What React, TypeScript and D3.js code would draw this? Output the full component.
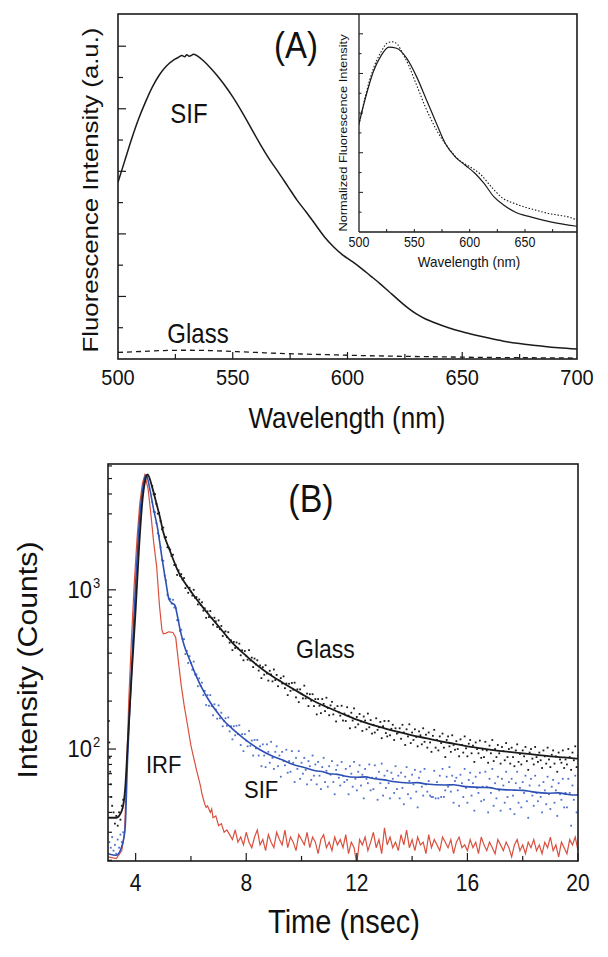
import React from "react";
import * as d3 from "d3";

const FONT = "'Liberation Sans', Arial, Helvetica, sans-serif";
const SY = 1.12;

// ---------------- Panel A data ----------------
const sifSpectrum: [number, number][] = [
  [500, 5.65], [503, 6.35], [506, 7.05], [509, 7.68], [512, 8.22], [515, 8.7], [518, 9.08],
  [521, 9.36], [524, 9.55], [526, 9.63], [528, 9.7], [529, 9.66], [530, 9.73], [531, 9.68],
  [533, 9.74], [535, 9.67], [537, 9.55], [540, 9.33], [543, 9.08], [546, 8.8], [550, 8.38],
  [554, 7.9], [558, 7.38], [562, 6.86], [566, 6.38], [570, 5.96], [574, 5.52], [578, 5.08],
  [582, 4.7], [586, 4.3], [590, 3.9], [594, 3.58], [598, 3.32], [602, 3.12], [606, 2.9],
  [610, 2.66], [614, 2.42], [618, 2.16], [622, 1.9], [626, 1.65], [630, 1.44], [634, 1.28],
  [638, 1.16], [644, 1.0], [650, 0.87], [656, 0.76], [662, 0.66], [668, 0.57], [674, 0.5],
  [680, 0.45], [686, 0.4], [692, 0.36], [700, 0.32],
];
const glassSpectrum: [number, number][] = [
  [500, 0.21], [510, 0.24], [520, 0.27], [530, 0.28], [540, 0.27], [550, 0.24], [560, 0.21],
  [570, 0.18], [580, 0.16], [590, 0.14], [600, 0.12], [620, 0.09], [640, 0.07], [660, 0.05],
  [680, 0.04], [700, 0.03],
];
const insetSif: [number, number][] = [
  [500, 5.48], [506, 6.8], [513, 8.1], [520, 8.9], [527, 9.33], [534, 9.27], [543, 8.77],
  [552, 7.84], [561, 6.66], [570, 5.48], [578, 4.47], [587, 3.79], [596, 3.37], [605, 2.95],
  [613, 2.45], [622, 1.77], [631, 1.35], [641, 1.01], [655, 0.76], [673, 0.51], [697, 0.29],
];
const insetGlass: [number, number][] = [
  [500, 5.4], [506, 6.9], [513, 8.25], [520, 9.1], [526, 9.55], [530, 9.6], [535, 9.45],
  [540, 8.95], [545, 8.4], [550, 7.7], [555, 7.0], [560, 6.3], [565, 5.7], [570, 5.15],
  [580, 4.3], [590, 3.65], [600, 3.3], [610, 2.9], [620, 2.25], [630, 1.7], [640, 1.45],
  [650, 1.25], [660, 1.1], [670, 0.95], [680, 0.85], [690, 0.75], [697, 0.6],
];
const aXTickLabels = [500, 550, 600, 650, 700];
const aXTicks = [525, 550, 575, 600, 625, 650, 675];
const aYTicks = [1, 2, 3, 4, 5, 6, 7, 8, 9, 10];
const insetXTickLabels = [500, 550, 600, 650];
const insetXTicks = [525, 550, 575, 600, 625, 650, 675];
const insetYTicks = [1, 2, 3, 4, 5, 6, 7, 8, 9, 10];

// ---------------- Panel B data ----------------
const glassFit: [number, number][] = [
  [3.0, 37], [3.3, 37], [3.5, 41], [3.62, 56], [3.72, 114], [3.86, 300], [4.0, 750],
  [4.12, 1800], [4.25, 3700], [4.35, 4900], [4.43, 5300], [4.6, 4400], [4.75, 3500],
  [4.87, 2900], [5.0, 2300], [5.25, 1740], [5.5, 1350], [6.0, 975], [6.5, 750], [7.0, 590],
  [7.5, 465], [8.0, 385], [8.5, 325], [9.0, 282], [9.5, 250], [10.0, 222], [10.5, 198],
  [11.0, 181], [11.5, 166], [12.0, 153], [12.5, 143], [13.0, 135], [13.5, 128], [14.0, 122],
  [14.5, 117], [15.0, 112], [15.5, 108], [16.0, 104], [16.5, 101], [17.0, 98], [17.5, 96],
  [18.0, 94], [18.5, 92], [19.0, 90], [19.5, 88.5], [20, 87],
];
const sifFit: [number, number][] = [
  [3.0, 22], [3.3, 21.5], [3.5, 24.5], [3.62, 32], [3.7, 80], [3.8, 200], [3.9, 480],
  [4.0, 1100], [4.1, 2200], [4.2, 3600], [4.3, 4800], [4.38, 5300], [4.5, 4400], [4.65, 3200],
  [4.8, 2400], [4.95, 1600], [5.1, 1100], [5.2, 880], [5.3, 830], [5.42, 800], [5.5, 700],
  [5.6, 570], [5.75, 450], [5.95, 365], [6.2, 285], [6.45, 232], [6.7, 196], [6.95, 170],
  [7.2, 150], [7.5, 134], [7.8, 121], [8.1, 110], [8.5, 99], [8.9, 91], [9.3, 85.5],
  [9.7, 80], [10.1, 76.5], [10.5, 73], [10.8, 71.8], [11.0, 70], [11.3, 69.3], [11.5, 68],
  [12.0, 66.5], [12.3, 66.8], [12.65, 65], [13.0, 64], [13.3, 62.5], [13.9, 61.2],
  [14.2, 61.5], [14.5, 60.3], [15.2, 59.4], [15.5, 59.6], [15.8, 58.5], [16.45, 57.4],
  [16.8, 57.2], [17.1, 56], [17.7, 55.2], [18.0, 55], [18.3, 54], [18.96, 52.8], [19.3, 53],
  [19.6, 52], [19.9, 51.4], [20, 51.5],
];
const irfHead: [number, number][] = [
  [3.0, 21], [3.3, 20.5], [3.5, 23], [3.6, 30], [3.67, 70], [3.75, 200], [3.85, 500],
  [3.95, 1100], [4.05, 2100], [4.15, 3500], [4.25, 4700], [4.33, 5250], [4.45, 4300],
  [4.55, 3000], [4.65, 2000], [4.76, 1400], [4.86, 800], [4.95, 560], [5.0, 530], [5.1, 535],
  [5.2, 545], [5.35, 540], [5.45, 500], [5.55, 350], [5.65, 250], [5.75, 190], [5.88, 140],
  [6.0, 105], [6.1, 88], [6.2, 74], [6.3, 63], [6.35, 58], [6.4, 52], [6.5, 45], [6.55, 43],
  [6.6, 44], [6.7, 40], [6.75, 42], [6.8, 37], [6.9, 38], [7.0, 33], [7.1, 34], [7.2, 30],
  [7.3, 31],
];
// IRF tail, one value per 0.1 ns channel from 7.4 ns
const irfTailStart = 7.4;
const irfChannel = 0.1;
const irfTail = [
  29, 27, 31, 26, 28, 25, 30, 26, 24, 28, 31, 25, 27, 23, 29, 26, 24, 30, 27, 25,
  31, 24, 28, 26, 23, 29, 27, 25, 30, 24, 28, 26, 22, 27, 29, 24, 26, 23, 28, 25,
  27, 24, 29, 22, 26, 24, 19, 27, 25, 28, 23, 26, 30, 24, 27, 22, 32, 25, 28, 24,
  26, 23, 29, 25, 31, 24, 27, 23, 28, 25, 26, 22, 29, 24, 27, 25, 23, 28, 26, 24,
  27, 22, 26, 28, 24, 25, 23, 27, 24, 26, 22, 28, 25, 23, 26, 24, 22, 27, 25, 23,
  26, 24, 21, 25, 27, 23, 25, 22, 26, 24, 27, 23, 25, 22, 26, 24, 28, 23, 25, 21,
  26, 24, 22, 27, 25, 28, 23,
];
// measured decays (dots), one value per 0.05 ns channel from 4.6 ns
const dotsStart = 4.6;
const dotsChannel = 0.05;
const glassDots = [
  4490, 3980, 3990, 3465, 3010, 3040, 2700, 2400, 2460, 2140, 2140, 1850, 1840, 1790, 1630, 1660, 1430, 1435, 1240, 1325,
  1225, 1255, 1160, 1185, 1025, 1060, 958, 1030, 975, 920, 1000, 890, 900, 810, 870, 805, 835, 740, 765, 667,
  732, 674, 736, 665, 604, 668, 634, 584, 643, 566, 593, 513, 540, 548, 505, 542, 466, 482, 418, 471,
  431, 467, 429, 459, 388, 417, 361, 413, 385, 364, 418, 360, 375, 327, 370, 340, 361, 311, 335, 279,
  327, 293, 336, 298, 269, 310, 294, 266, 316, 271, 292, 248, 269, 279, 258, 286, 241, 258, 218, 257,
  232, 260, 236, 261, 211, 237, 197, 237, 222, 208, 250, 208, 223, 186, 221, 201, 221, 186, 206, 165,
  206, 187, 168, 206, 192, 173, 210, 181, 163, 188, 198, 165, 180, 149, 186, 170, 162, 187, 151, 167,
  150, 183, 162, 135, 169, 151, 180, 137, 159, 143, 166, 149, 130, 160, 151, 133, 167, 137, 152, 125,
  142, 127, 156, 132, 137, 148, 117, 139, 150, 126, 120, 150, 122, 134, 142, 114, 135, 125, 127, 135,
  116, 142, 127, 106, 133, 120, 143, 109, 127, 114, 133, 119, 104, 129, 122, 107, 135, 111, 123, 102,
  127, 110, 96, 121, 132, 102, 114, 98, 120, 109, 125, 102, 89, 114, 120, 104, 96, 122, 106, 99,
  112, 100, 90, 115, 106, 95, 120, 101, 90, 108, 114, 94, 105, 83, 110, 100, 94, 113, 88, 99,
  89, 111, 98, 82, 105, 94, 114, 84, 100, 89, 106, 94, 81, 103, 97, 85, 109, 89, 100, 81,
  102, 89, 78, 98, 107, 83, 93, 80, 98, 90, 103, 84, 74, 95, 100, 87, 80, 103, 89, 83,
  95, 85, 76, 98, 90, 81, 102, 86, 77, 92, 98, 81, 90, 72, 95, 86, 82, 98, 76, 86,
  80, 100, 89, 74, 95, 85, 104, 77, 91,
];
const sifDots = [
  3570, 3100, 3070, 2620, 2260, 2180, 1850, 1540, 1520, 1225, 1145, 930, 880, 875, 820, 865, 775, 768, 645, 643,
  553, 562, 490, 490, 395, 413, 347, 383, 348, 315, 354, 294, 294, 248, 278, 249, 261, 218, 232, 189,
  218, 187, 218, 186, 163, 191, 177, 155, 188, 156, 169, 139, 150, 156, 140, 158, 129, 139, 115, 139,
  122, 140, 124, 141, 106, 124, 97, 124, 113, 104, 130, 105, 113, 91, 114, 101, 114, 91, 104, 78,
  107, 91, 77, 107, 96, 82, 111, 88, 75, 96, 104, 78, 91, 67, 96, 84, 79, 99, 71, 84,
  72, 97, 82, 62, 88, 75, 97, 65, 82, 70, 88, 74, 60, 84, 78, 64, 91, 68, 80, 60,
  83, 68, 56, 77, 88, 62, 73, 58, 78, 69, 84, 62, 52, 74, 79, 66, 59, 83, 68, 62,
  75, 64, 52, 78, 70, 58, 83, 65, 55, 72, 79, 59, 69, 49, 75, 65, 61, 80, 55, 66,
  56, 79, 66, 48, 72, 61, 81, 51, 68, 57, 73, 61, 49, 71, 65, 53, 78, 56, 68, 49,
  71, 57, 45, 67, 77, 52, 63, 49, 69, 60, 74, 54, 43, 66, 72, 58, 51, 75, 60, 54,
  63, 51, 50, 50, 73, 49, 62, 49, 68, 50, 75, 50, 55, 67, 58, 77, 54, 68, 46, 63,
  66, 55, 44, 69, 61, 50, 75, 57, 46, 64, 71, 51, 61, 41, 67, 57, 53, 71, 47, 58,
  48, 72, 58, 40, 65, 53, 75, 44, 61, 49, 67, 55, 41, 65, 59, 46, 72, 50, 62, 42,
  65, 51, 39, 61, 72, 46, 57, 43, 62, 53, 68, 47, 37, 59, 65, 51, 44, 68, 53, 47,
  59, 50, 40, 62, 55, 45, 67, 52, 42, 58, 64, 46, 55, 38, 61, 52, 48, 65, 43, 53,
  43, 65, 53, 33, 59, 48, 68, 40, 56,
];
const glassEarlyDots: [number, number][] = [
  [3.03, 150], [3.05, 110], [3.06, 88], [3.08, 72], [3.1, 60], [3.12, 50], [3.15, 44],
  [3.2, 40], [3.25, 34], [3.3, 38], [3.35, 33], [3.4, 40], [3.45, 36], [3.5, 44], [3.55, 48],
];
const sifEarlyDots: [number, number][] = [
  [3.05, 26], [3.1, 24], [3.15, 28], [3.2, 23], [3.25, 25], [3.3, 22], [3.35, 27], [3.4, 24],
  [3.45, 29], [3.5, 26], [3.55, 30],
];
const bXTickLabels = [4, 8, 12, 16, 20];
const bXTicks = [4, 6, 8, 10, 12, 14, 16, 18, 20];
const bYDecades = [{ v: 100, exp: "2" }, { v: 1000, exp: "3" }];

const BLACK = "#1b1b1b";
const BLUE = "#2d50b4";
const BLUE_DOT = "#5070cc";
const RED = "#d9503e";

function Txt(props: {
  x: number; y: number; size: number; anchor?: string; rotate?: boolean; children: any;
}) {
  const { x, y, size, anchor = "middle", rotate = false, children } = props;
  return (
    <text
      transform={`translate(${x},${y}) scale(1,${SY})${rotate ? " rotate(-90)" : ""}`}
      fontSize={size}
      fontFamily={FONT}
      textAnchor={anchor as any}
      fill="#111"
    >
      {children}
    </text>
  );
}

export default function App() {
  // Panel A scales
  const xA = d3.scaleLinear().domain([500, 700]).range([118, 577]);
  const yA = d3.scaleLinear().domain([0, 11.03]).range([359, 14]);
  const xIn = d3.scaleLinear().domain([500, 697]).range([359, 577]);
  const yIn = d3.scaleLinear().domain([0, 11]).range([232, 14]);
  // Panel B scales
  const xB = d3.scaleLinear().domain([3, 20]).range([108, 578]);
  const yB = d3.scaleLog().domain([19.8, 6170]).range([861, 464]);

  const lineA = d3.line<[number, number]>().x((d) => xA(d[0])).y((d) => yA(d[1])).curve(d3.curveMonotoneX);
  const lineIn = d3.line<[number, number]>().x((d) => xIn(d[0])).y((d) => yIn(d[1])).curve(d3.curveMonotoneX);
  const lineB = d3.line<[number, number]>().x((d) => xB(d[0])).y((d) => yB(d[1])).curve(d3.curveMonotoneX);
  const lineBLin = d3.line<[number, number]>().x((d) => xB(d[0])).y((d) => yB(d[1]));

  const irf: [number, number][] = irfHead.concat(
    irfTail.map((v, i) => [irfTailStart + i * irfChannel, v] as [number, number])
  );
  const gDots: [number, number][] = glassEarlyDots.concat(
    glassDots.map((v, i) => [dotsStart + i * dotsChannel, v] as [number, number])
  );
  const sDots: [number, number][] = sifEarlyDots.concat(
    sifDots.map((v, i) => [dotsStart + i * dotsChannel, v] as [number, number])
  );

  const [a0, a1] = xA.range();
  const [aB, aT] = yA.range();
  const [b0, b1] = xB.range();
  const [bB, bT] = yB.range();
  const [i0, i1] = xIn.range();
  const [iB, iT] = yIn.range();

  const logTicks = yB.ticks(20).filter((v) => v >= 20 && v <= 6170);

  return (
    <svg width={608} height={957} style={{ position: "absolute", left: 0, top: 0, background: "#fff" }}>
      <rect x={0} y={0} width={608} height={957} fill="#fff" />
      <defs>
        <clipPath id="clipA"><rect x={a0} y={aT} width={a1 - a0} height={aB - aT} /></clipPath>
        <clipPath id="clipB"><rect x={b0} y={bT} width={b1 - b0} height={bB - bT} /></clipPath>
        <clipPath id="clipIn"><rect x={i0} y={iT} width={i1 - i0} height={iB - iT} /></clipPath>
      </defs>

      {/* ===== Panel A ===== */}
      <g clipPath="url(#clipA)">
        <path d={lineA(sifSpectrum) || ""} fill="none" stroke={BLACK} strokeWidth={1.5} />
        <path d={lineA(glassSpectrum) || ""} fill="none" stroke={BLACK} strokeWidth={1.3} strokeDasharray="5,4" />
      </g>
      {aYTicks.map((v) => (
        <line key={"ay" + v} x1={a0} x2={a0 + (v % 2 === 0 ? 8 : 5)} y1={yA(v)} y2={yA(v)} stroke={BLACK} strokeWidth={1.2} />
      ))}
      {aXTicks.map((v) => (
        <line key={"ax" + v} x1={xA(v)} x2={xA(v)} y1={aB} y2={aB - (v % 50 === 0 ? 7 : 5)} stroke={BLACK} strokeWidth={1.2} />
      ))}
      <rect x={a0} y={aT} width={a1 - a0} height={aB - aT} fill="none" stroke={BLACK} strokeWidth={1.6} />
      {aXTickLabels.map((v) => (
        <Txt key={"axl" + v} x={xA(v)} y={385} size={20}>{v}</Txt>
      ))}
      <Txt x={347} y={428} size={26}>Wavelength (nm)</Txt>
      <Txt x={98} y={190} size={23} rotate>Fluorescence Intensity (a.u.)</Txt>
      <Txt x={296} y={58} size={33}>(A)</Txt>
      <Txt x={189} y={123} size={24}>SIF</Txt>
      <Txt x={198} y={343} size={24}>Glass</Txt>

      {/* Inset */}
      <g clipPath="url(#clipIn)">
        <path d={lineIn(insetSif) || ""} fill="none" stroke={BLACK} strokeWidth={1.2} />
        <path d={lineIn(insetGlass) || ""} fill="none" stroke={BLACK} strokeWidth={1.1} strokeDasharray="1.5,1.8" />
      </g>
      {insetYTicks.map((v) => (
        <line key={"iy" + v} x1={i0} x2={i0 + (v % 2 === 0 ? 4 : 2.5)} y1={yIn(v)} y2={yIn(v)} stroke={BLACK} strokeWidth={1} />
      ))}
      {insetXTicks.map((v) => (
        <line key={"ix" + v} x1={xIn(v)} x2={xIn(v)} y1={iB} y2={iB - 3} stroke={BLACK} strokeWidth={1} />
      ))}
      <line x1={i0} x2={i0} y1={iT} y2={iB} stroke={BLACK} strokeWidth={1.3} />
      <line x1={i0} x2={i1} y1={iB} y2={iB} stroke={BLACK} strokeWidth={1.3} />
      {insetXTickLabels.map((v) => (
        <Txt key={"ixl" + v} x={xIn(v)} y={247} size={12.5}>{v}</Txt>
      ))}
      <Txt x={469} y={267} size={13.5}>Wavelength (nm)</Txt>
      <Txt x={347} y={133} size={11.5} rotate>Normalized Fluorescence Intensity</Txt>

      {/* ===== Panel B ===== */}
      <g clipPath="url(#clipB)">
        {gDots.map((d, i) => (
          <rect key={"gd" + i} x={xB(d[0]) - 0.9} y={yB(d[1]) - 0.9} width={1.8} height={1.8} fill={BLACK} />
        ))}
        {sDots.map((d, i) => (
          <rect key={"sd" + i} x={xB(d[0]) - 0.9} y={yB(d[1]) - 0.9} width={1.8} height={1.8} fill={BLUE_DOT} />
        ))}
        <path d={lineBLin(irf) || ""} fill="none" stroke={RED} strokeWidth={1.2} />
        <path d={lineB(sifFit) || ""} fill="none" stroke={BLUE} strokeWidth={1.6} />
        <path d={lineB(glassFit) || ""} fill="none" stroke={BLACK} strokeWidth={1.8} />
      </g>
      {logTicks.map((v) => {
        const major = v === 100 || v === 1000;
        return <line key={"by" + v} x1={b0} x2={b0 + (major ? 8 : 4)} y1={yB(v)} y2={yB(v)} stroke={BLACK} strokeWidth={1.2} />;
      })}
      {bXTicks.map((v) => (
        <line key={"bx" + v} x1={xB(v)} x2={xB(v)} y1={bB} y2={bB - (v % 4 === 0 ? 8 : 5)} stroke={BLACK} strokeWidth={1.2} />
      ))}
      <rect x={b0} y={bT} width={b1 - b0} height={bB - bT} fill="none" stroke={BLACK} strokeWidth={1.6} />
      {bXTickLabels.map((v) => (
        <Txt key={"bxl" + v} x={xB(v)} y={891} size={21}>{v}</Txt>
      ))}
      {bYDecades.map((d) => (
        <g key={"byl" + d.v}>
          <Txt x={92} y={yB(d.v) + 8} size={22} anchor="end">10</Txt>
          <Txt x={93} y={yB(d.v) - 2} size={13} anchor="start">{d.exp}</Txt>
        </g>
      ))}
      <Txt x={344} y={933} size={29}>Time (nsec)</Txt>
      <Txt x={37} y={660} size={27} rotate>Intensity (Counts)</Txt>
      <Txt x={311} y={512} size={34}>(B)</Txt>
      <Txt x={296} y={658} size={23} anchor="start">Glass</Txt>
      <Txt x={244} y={798} size={22} anchor="start">SIF</Txt>
      <Txt x={146} y={773} size={22} anchor="start">IRF</Txt>
    </svg>
  );
}
